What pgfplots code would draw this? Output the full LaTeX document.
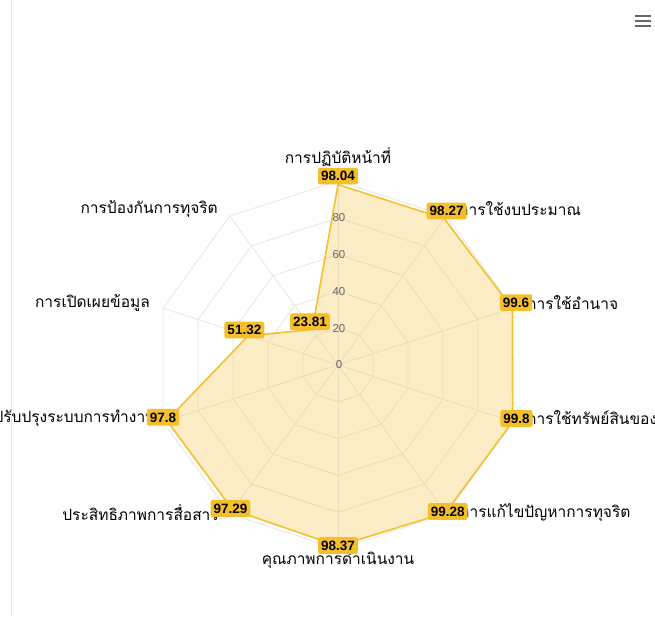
\documentclass[border=0pt]{standalone}
\usepackage{fontspec}
\setmainfont{Liberation Sans}
\newfontfamily\thaifont[Script=Thai]{Loma}
\usepackage{pgfplots}
\pgfplotsset{compat=1.18}
\usepgfplotslibrary{polar}
\definecolor{gridc}{HTML}{E6E6E6}
\definecolor{linec}{HTML}{F2C12E}
\definecolor{boxc}{HTML}{F5BF2A}
\definecolor{fillc}{HTML}{F7C548}
\definecolor{tickc}{HTML}{666666}
\tikzset{catlab/.style={font=\thaifont\fontsize{15.5}{18}\selectfont, text=black, inner sep=0pt}}
\begin{document}
\begin{tikzpicture}[x=1pt,y=1pt]
\clip (0,0) rectangle (655,616);
\fill[white] (0,0) rectangle (655,616);
\draw[gridc, line width=1pt] (11.5,0) -- (11.5,616);
\foreach \yy in {590,595,600} \draw[tickc, line width=1.5pt] (635,\yy) -- (651,\yy);
\begin{polaraxis}[
  at={(338pt,251pt)}, anchor=center,
  scale only axis, width=368pt, height=368pt,
  xmin=0, xmax=360, ymin=0, ymax=100,
  hide axis, clip=false,
  /pgf/number format/assume math mode=true,
]
% grid polygons
\pgfplotsinvokeforeach{20,40,60,80,100}{
  \addplot[gridc, line width=0.8pt, mark=none] coordinates {(90,#1) (54,#1) (18,#1) (342,#1) (306,#1) (270,#1) (234,#1) (198,#1) (162,#1) (126,#1) (90,#1)};
}
% spokes
\pgfplotsinvokeforeach{90,54,18,342,306,270,234,198,162,126}{
  \addplot[gridc, line width=0.8pt, mark=none] coordinates {(#1,0) (#1,100)};
}
% series area
\addplot[linec, line width=1.6pt, fill=fillc, fill opacity=0.3, draw opacity=1, mark=none] coordinates {
  (90,98.04) (54,98.27) (18,99.6) (342,99.8) (306,99.28) (270,98.37) (234,97.29) (198,97.8) (162,51.32) (126,23.81) (90,98.04)};
% tick labels
\pgfplotsinvokeforeach{0,20,40,60,80}{
  \node[font=\fontsize{11.5}{13}\selectfont, text=tickc, inner sep=0pt] at (axis cs:90,#1) [xshift=1pt] {#1};
}
% category labels
\node[catlab, anchor=center] at (axis cs:0,0) [yshift=208pt] {การปฏิบัติหน้าที่};
\node[catlab, anchor=west] at (axis cs:0,0) [xshift=121pt, yshift=156pt] {การใช้งบประมาณ};
\node[catlab, anchor=west] at (axis cs:0,0) [xshift=189pt, yshift=62pt] {การใช้อำนาจ};
\node[catlab, anchor=west] at (axis cs:0,0) [xshift=189pt, yshift=-53pt] {การใช้ทรัพย์สินของราชการ};
\node[catlab, anchor=west] at (axis cs:0,0) [xshift=122pt, yshift=-148pt] {การแก้ไขปัญหาการทุจริต};
\node[catlab, anchor=center] at (axis cs:0,0) [yshift=-195pt] {คุณภาพการดำเนินงาน};
\node[catlab, anchor=east] at (axis cs:0,0) [xshift=-119pt, yshift=-148pt] {ประสิทธิภาพการสื่อสาร};
\node[catlab, anchor=east] at (axis cs:0,0) [xshift=-182pt, yshift=-53pt] {การปรับปรุงระบบการทำงาน};
\node[catlab, anchor=east] at (axis cs:0,0) [xshift=-188pt, yshift=62pt] {การเปิดเผยข้อมูล};
\node[catlab, anchor=east] at (axis cs:0,0) [xshift=-120pt, yshift=156pt] {การป้องกันการทุจริต};
% data labels
\addplot[draw=none, mark=none,
  visualization depends on={rawx \as \myang},
  nodes near coords={\pgfmathprintnumber[fixed,precision=2]{\pgfplotspointmeta}},
  nodes near coords align=center,
  every node near coord/.append style={anchor=center, shift={(\myang:4pt)}, yshift=4.5pt, fill=boxc, rounded corners=2pt,
     font=\bfseries\fontsize{13.5}{15}\selectfont, text=black, inner xsep=3pt, inner ysep=3.5pt, text height=9.7pt, text depth=0pt}]
  coordinates {(90,98.04) (54,98.27) (18,99.6) (342,99.8) (306,99.28) (270,98.37) (234,97.29) (198,97.8) (162,51.32) (126,23.81)};
\end{polaraxis}
\end{tikzpicture}
\end{document}
